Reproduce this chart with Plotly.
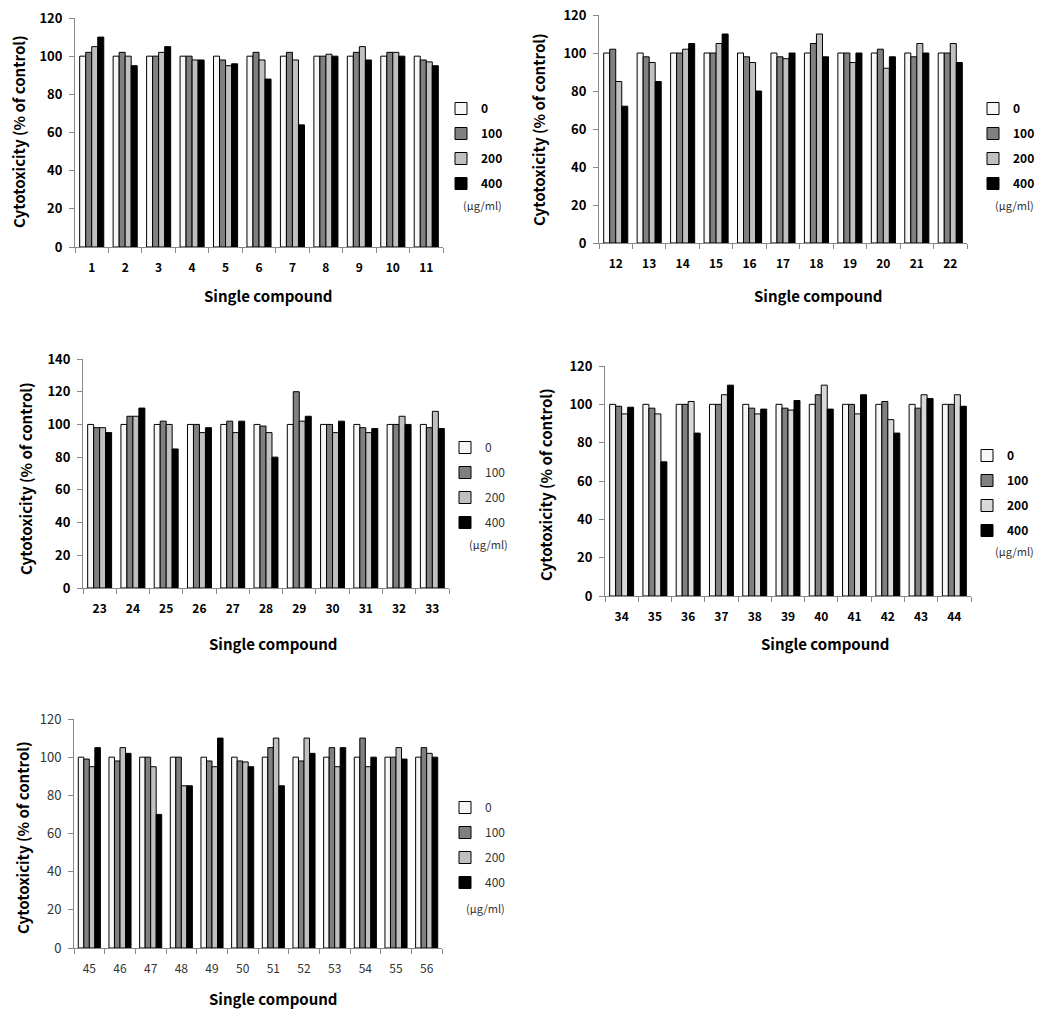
import plotly.graph_objects as go

# ---------------- data ----------------
doses = ["0", "100", "200", "400"]

p1_cats = ["1", "2", "3", "4", "5", "6", "7", "8", "9", "10", "11"]
p1_0 = [100, 100, 100, 100, 100, 100, 100, 100, 100, 100, 100]
p1_100 = [102, 102, 100, 100, 98, 102, 102, 100, 102, 102, 98]
p1_200 = [105, 100, 102, 98, 95, 98, 98, 101, 105, 102, 97]
p1_400 = [110, 95, 105, 98, 96, 88, 64, 100, 98, 100, 95]

p2_cats = ["12", "13", "14", "15", "16", "17", "18", "19", "20", "21", "22"]
p2_0 = [100, 100, 100, 100, 100, 100, 100, 100, 100, 100, 100]
p2_100 = [102, 98, 100, 100, 98, 98, 105, 100, 102, 98, 100]
p2_200 = [85, 95, 102, 105, 95, 97, 110, 95, 92, 105, 105]
p2_400 = [72, 85, 105, 110, 80, 100, 98, 100, 98, 100, 95]

p3_cats = ["23", "24", "25", "26", "27", "28", "29", "30", "31", "32", "33"]
p3_0 = [100, 100, 100, 100, 100, 100, 100, 100, 100, 100, 100]
p3_100 = [98, 105, 102, 100, 102, 99, 120, 100, 98, 100, 98]
p3_200 = [98, 105, 100, 95, 95, 95, 102, 95, 95, 105, 108]
p3_400 = [95, 110, 85, 98, 102, 80, 105, 102, 97.5, 100, 97.5]

p4_cats = ["34", "35", "36", "37", "38", "39", "40", "41", "42", "43", "44"]
p4_0 = [100, 100, 100, 100, 100, 100, 100, 100, 100, 100, 100]
p4_100 = [99, 98, 100, 100, 98, 98, 105, 100, 101.5, 98, 100]
p4_200 = [95, 95, 101.5, 105, 95, 97, 110, 95, 92, 105, 105]
p4_400 = [98.5, 70, 85, 110, 97.5, 102, 97.5, 105, 85, 103, 99]

p5_cats = ["45", "46", "47", "48", "49", "50", "51", "52", "53", "54", "55", "56"]
p5_0 = [100, 100, 100, 100, 100, 100, 100, 100, 100, 100, 100, 100]
p5_100 = [99, 98, 100, 100, 98, 98, 105, 98, 105, 110, 100, 105]
p5_200 = [95, 105, 95, 85, 95, 97.5, 110, 110, 95, 95, 105, 102]
p5_400 = [105, 102, 70, 85, 110, 95, 85, 102, 105, 100, 99, 100]

y_title = "Cytotoxicity (% of control)"
x_title = "Single compound"
unit_label = "(\u03bcg/ml)"

# ---------------- layout helpers ----------------
W, H = 1049, 1014
FONT = "Noto Sans CJK KR"


def xd(a, b):
    return [a / W, b / W]


def yd(top, bot):
    return [1 - bot / H, 1 - top / H]


panels = [
    dict(cats=p1_cats, series=[p1_0, p1_100, p1_200, p1_400], xdom=(75, 443), ydom=(18, 247),
         ymax=120, tickbold=True, legbold=True, c200="#c0c0c0",
         ytitle=(18, 132), xtitle=(268, 296), leg=(441, 94), unit=(482, 205)),
    dict(cats=p2_cats, series=[p2_0, p2_100, p2_200, p2_400], xdom=(599, 967), ydom=(15, 243),
         ymax=120, tickbold=True, legbold=True, c200="#c0c0c0",
         ytitle=(538, 130), xtitle=(818, 295), leg=(973, 94), unit=(1014, 205)),
    dict(cats=p3_cats, series=[p3_0, p3_100, p3_200, p3_400], xdom=(83, 449), ydom=(359, 588),
         ymax=140, tickbold=True, legbold=False, c200="#c0c0c0",
         ytitle=(25, 479), xtitle=(273, 643), leg=(445, 433), unit=(488, 544)),
    dict(cats=p4_cats, series=[p4_0, p4_100, p4_200, p4_400], xdom=(605, 971), ydom=(366, 596),
         ymax=120, tickbold=True, legbold=True, c200="#d9d9d9",
         ytitle=(545, 485), xtitle=(825, 643), leg=(967, 441), unit=(1015, 551)),
    dict(cats=p5_cats, series=[p5_0, p5_100, p5_200, p5_400], xdom=(74, 442), ydom=(719, 948),
         ymax=120, tickbold=False, legbold=False, c200="#c0c0c0",
         ytitle=(22, 838), xtitle=(273, 998), leg=(445, 793), unit=(485, 908)),
]

fig = go.Figure()
annotations = []
layout = dict()

for i, p in enumerate(panels, start=1):
    xa = "x" if i == 1 else f"x{i}"
    ya = "y" if i == 1 else f"y{i}"
    lg = "legend" if i == 1 else f"legend{i}"
    colors = ["#f7f7f7", "#808080", p["c200"], "#000000"]
    for dose, vals, col in zip(doses, p["series"], colors):
        fig.add_trace(go.Bar(
            x=p["cats"], y=vals, name=dose, xaxis=xa, yaxis=ya, legend=lg,
            legendgroup=f"p{i}_{dose}",
            marker=dict(color=col, line=dict(color="black", width=1)),
        ))
    tw = "bold" if p["tickbold"] else "normal"
    tc = "#000000" if p["tickbold"] else "#333333"
    lw = "bold" if p["legbold"] else "normal"
    lc = "#000000" if p["legbold"] else "#333333"
    key_x = "xaxis" if i == 1 else f"xaxis{i}"
    key_y = "yaxis" if i == 1 else f"yaxis{i}"
    layout[key_x] = dict(
        domain=xd(*p["xdom"]), anchor=ya, type="category", showline=True, linecolor="#888888",
        linewidth=1, ticks="outside", tickson="boundaries", ticklen=5, tickcolor="#888888",
        showgrid=False, zeroline=False, ticklabelstandoff=10, automargin=False,
        tickfont=dict(family=FONT, size=12, color=tc, weight=tw),
    )
    layout[key_y] = dict(
        domain=yd(*p["ydom"]), anchor=xa, range=[0, p["ymax"]], dtick=20, showline=True,
        linecolor="#888888", linewidth=1, ticks="outside", ticklen=5, tickcolor="#888888",
        showgrid=False, zeroline=False, automargin=False, ticklabelstandoff=4,
        tickfont=dict(family=FONT, size=13, color=tc, weight=tw),
    )
    layout[lg] = dict(
        x=p["leg"][0] / W, y=1 - p["leg"][1] / H, xanchor="left", yanchor="top",
        bgcolor="rgba(0,0,0,0)", borderwidth=0, tracegroupgap=6, itemwidth=30,
        traceorder="grouped",
        font=dict(family=FONT, size=12, color=lc, weight=lw),
    )
    annotations.append(dict(
        text=y_title, x=p["ytitle"][0] / W, y=1 - p["ytitle"][1] / H, xref="paper", yref="paper",
        textangle=-90, showarrow=False, xanchor="center", yanchor="middle",
        font=dict(family=FONT, size=15, color="#000000", weight="bold"),
    ))
    annotations.append(dict(
        text=x_title, x=p["xtitle"][0] / W, y=1 - p["xtitle"][1] / H, xref="paper", yref="paper",
        showarrow=False, xanchor="center", yanchor="middle",
        font=dict(family=FONT, size=15, color="#000000", weight="bold"),
    ))
    annotations.append(dict(
        text=unit_label, x=p["unit"][0] / W, y=1 - p["unit"][1] / H, xref="paper", yref="paper",
        showarrow=False, xanchor="center", yanchor="middle",
        font=dict(family=FONT, size=11, color="#333333"),
    ))

fig.update_layout(
    **layout,
    annotations=annotations,
    width=W, height=H,
    margin=dict(l=0, r=0, t=0, b=0, autoexpand=False),
    paper_bgcolor="white", plot_bgcolor="white",
    barmode="group", bargap=0.28, bargroupgap=0,
    showlegend=True,
)

fig.write_html(
    "out.html",
    config={"displayModeBar": False},
    post_script="document.body.style.margin='0';document.body.style.overflow='hidden';",
)
